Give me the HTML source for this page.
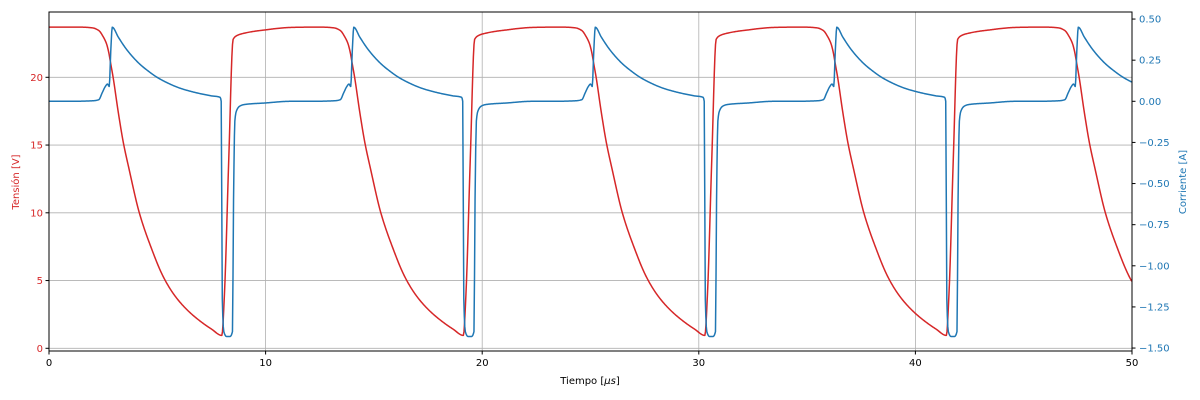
<!DOCTYPE html>
<html><head><meta charset="utf-8"><style>
body{margin:0;background:#fff}
svg{display:block;font-family:"DejaVu Sans","Liberation Sans",sans-serif}
</style></head><body>
<svg id="chart" width="1200" height="400" viewBox="0 0 1200 400" xmlns="http://www.w3.org/2000/svg"></svg>
<script>
const xTicks = [0, 10, 20, 30, 40, 50];
const vTicks = [0, 5, 10, 15, 20];
const aTicks = [0.5, 0.25, 0, -0.25, -0.5, -0.75, -1.0, -1.25, -1.5];
const aTickLabels = ["0.50","0.25","0.00","\u22120.25","\u22120.50","\u22120.75","\u22121.00","\u22121.25","\u22121.50"];
const cycleStarts = [0, 11.15, 22.3, 33.45, 44.6];
const vCycleT = [0,0.8,1.5,2.0,2.3,2.5,2.65,2.75,2.85,2.96,3.2,3.43,3.7,4.17,4.7,5.27,5.8,6.4,7.0,7.5,7.98,8.1,8.3,8.5,8.7,9.0,9.5,10.0,10.5,11.15];
const vCycleV = [23.7,23.7,23.7,23.65,23.45,23.0,22.5,21.9,21.0,20.0,17.4,15.2,13.2,10.0,7.5,5.3,3.9,2.8,1.98,1.42,0.95,4,14,22.8,23.1,23.25,23.4,23.5,23.6,23.68];
const iCycleT = [0,1,2,2.3,2.45,2.6,2.7,2.78,2.85,2.92,3.2,3.5,3.8,4.2,4.6,5.0,5.5,6.0,6.5,7.0,7.5,7.9,7.95,8.0,8.07,8.2,8.35,8.47,8.52,8.58,8.65,8.8,9.0,10,11.15];
const iCycleA = [0,0,0.003,0.01,0.05,0.09,0.105,0.09,0.3,0.45,0.39,0.33,0.28,0.225,0.182,0.145,0.11,0.082,0.062,0.046,0.033,0.024,0.0,-1.2,-1.4,-1.43,-1.43,-1.4,-0.6,-0.12,-0.06,-0.03,-0.02,-0.01,0.0];

const L=49,R=1132,T=12,B=351;
const xS=t=>L+(t-0)/50*(R-L);
const vS=v=>348.3-v*13.55;
const aS=a=>101.3-a*164.5;
const NS="http://www.w3.org/2000/svg";
const svg=document.getElementById('chart');
function mk(tag,attrs,parent){const e=document.createElementNS(NS,tag);for(const k in attrs)e.setAttribute(k,attrs[k]);(parent||svg).appendChild(e);return e;}

const grid=mk('g',{});


xTicks.forEach(t=>{const l=mk('line',{x1:xS(t),x2:xS(t),y1:T,y2:B,stroke:'#b0b0b0','stroke-width':0.8},grid);

});
vTicks.forEach(v=>{const l=mk('line',{x1:L,x2:R,y1:vS(v),y2:vS(v),stroke:'#b0b0b0','stroke-width':0.8},grid);

});

// monotone cubic (Fritsch-Carlson) sampling
function monotone(xs,ys){const n=xs.length,d=[],m=new Array(n);
for(let i=0;i<n-1;i++)d.push((ys[i+1]-ys[i])/(xs[i+1]-xs[i]));
m[0]=d[0];m[n-1]=d[n-2];
for(let i=1;i<n-1;i++){if(d[i-1]*d[i]<=0)m[i]=0;else{const w1=2*(xs[i+1]-xs[i])+(xs[i]-xs[i-1]),w2=(xs[i+1]-xs[i])+2*(xs[i]-xs[i-1]);m[i]=(w1+w2)/(w1/d[i-1]+w2/d[i]);}}
const out=[];
for(let i=0;i<n-1;i++){const h=xs[i+1]-xs[i];const steps=Math.max(2,Math.ceil(h/0.03));
for(let s=0;s<steps;s++){const u=s/steps,u2=u*u,u3=u2*u;
const y=(2*u3-3*u2+1)*ys[i]+(u3-2*u2+u)*h*m[i]+(-2*u3+3*u2)*ys[i+1]+(u3-u2)*h*m[i+1];
out.push([xs[i]+u*h,y]);}}
out.push([xs[n-1],ys[n-1]]);return out;}

function series(ts,vs,yS){const xs=[],ys=[];cycleStarts.forEach((c,k)=>{ts.forEach((t,i)=>{if(k>0&&i===0)return;xs.push(c+t);ys.push(vs[i]);});});
const pts=monotone(xs,ys).filter(p=>p[0]<=50.0001);
return pts.map((p,i)=>(i?'L':'M')+xS(p[0]).toFixed(2)+','+yS(p[1]).toFixed(2)).join(' ');}
const vl=mk('path',{d:series(vCycleT,vCycleV,vS),fill:'none',stroke:'#d62728','stroke-width':1.5,'stroke-linejoin':'round'});


const il=mk('path',{d:series(iCycleT,iCycleA,aS),fill:'none',stroke:'#1f77b4','stroke-width':1.5,'stroke-linejoin':'round'});



const fr=mk('rect',{x:L,y:T,width:R-L,height:B-T,fill:'none',stroke:'#000','stroke-width':1});



xTicks.forEach(t=>{mk('line',{x1:xS(t),x2:xS(t),y1:B,y2:B+3.5,stroke:'#000'});
const tx=mk('text',{x:xS(t),y:B+15,'font-size':10,'text-anchor':'middle',fill:'#000'});tx.textContent=t;

});
vTicks.forEach(v=>{mk('line',{x1:L-3.5,x2:L,y1:vS(v),y2:vS(v),stroke:'#000'});
const tx=mk('text',{x:L-6,y:vS(v)+3.5,'font-size':10,'text-anchor':'end',fill:'#d62728'});tx.textContent=v;

});
aTicks.forEach((a,i)=>{mk('line',{x1:R,x2:R+3.5,y1:aS(a),y2:aS(a),stroke:'#000'});
const tx=mk('text',{x:R+7,y:aS(a)+3.5,'font-size':10,'text-anchor':'start',fill:'#1f77b4'});tx.textContent=aTickLabels[i];

});
</script>
<svg style="position:absolute;left:0;top:0" width="1200" height="400">
<text x="590" y="384" font-size="10" text-anchor="middle" font-family="DejaVu Sans, Liberation Sans, sans-serif">Tiempo [<tspan font-style="italic">μs</tspan>]</text>
<text transform="translate(19,182) rotate(-90)" font-size="10" text-anchor="middle" fill="#d62728" font-family="DejaVu Sans, Liberation Sans, sans-serif">Tensión [V]</text>
<text transform="translate(1186,182) rotate(-90)" font-size="10" text-anchor="middle" fill="#1f77b4" font-family="DejaVu Sans, Liberation Sans, sans-serif">Corriente [A]</text>
</svg>
</body></html>
